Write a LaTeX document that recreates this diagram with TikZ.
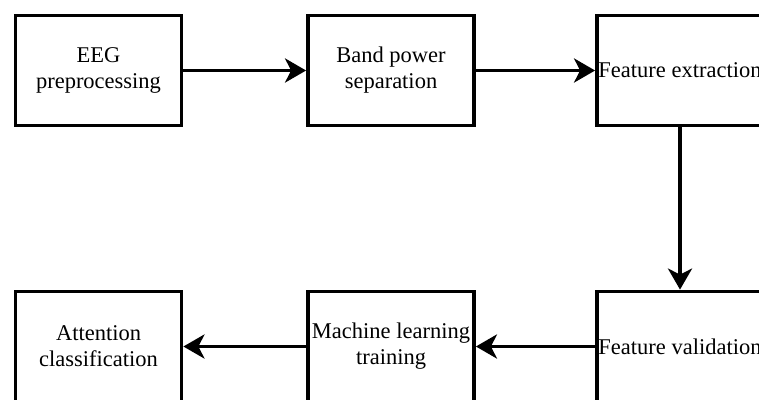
\documentclass[tikz,border=0pt]{standalone}
\usepackage{fontspec}
\setmainfont{Liberation Serif}
\usetikzlibrary{arrows.meta}
\begin{document}
\begin{tikzpicture}[x=1pt,y=-1pt,
  procbox/.style={draw=black, line width=3.8pt, fill=white, minimum width=166pt, minimum height=110pt,
    inner sep=0pt, align=center, font=\fontsize{22.5}{26}\selectfont},
  flow/.style={line width=3.8pt, -{Stealth[length=21pt,width=24pt,inset=6pt]}}]
\useasboundingbox (0,0) rectangle (759,399);
\clip (0,0) rectangle (759,399);
\fill[white] (0,0) rectangle (759,399);
\node[procbox] (eeg)  at (98.5,70.5) {EEG\\preprocessing};
\node[procbox] (band) at (391,70.5) {Band power\\separation};
\node[procbox] (fext) at (680,70.5) {Feature extraction};
\node[procbox] (att)  at (98.5,346.5) {Attention\\classification};
\node[procbox] (ml)   at (391,346.5) {Machine learning\\training};
\node[procbox] (fval) at (680,346.5) {Feature validation};
\draw[flow] (eeg) -- (band);
\draw[flow] (band) -- (fext);
\draw[flow] (fext) -- (fval);
\draw[flow] (fval) -- (ml);
\draw[flow] (ml) -- (att);
\end{tikzpicture}
\end{document}
